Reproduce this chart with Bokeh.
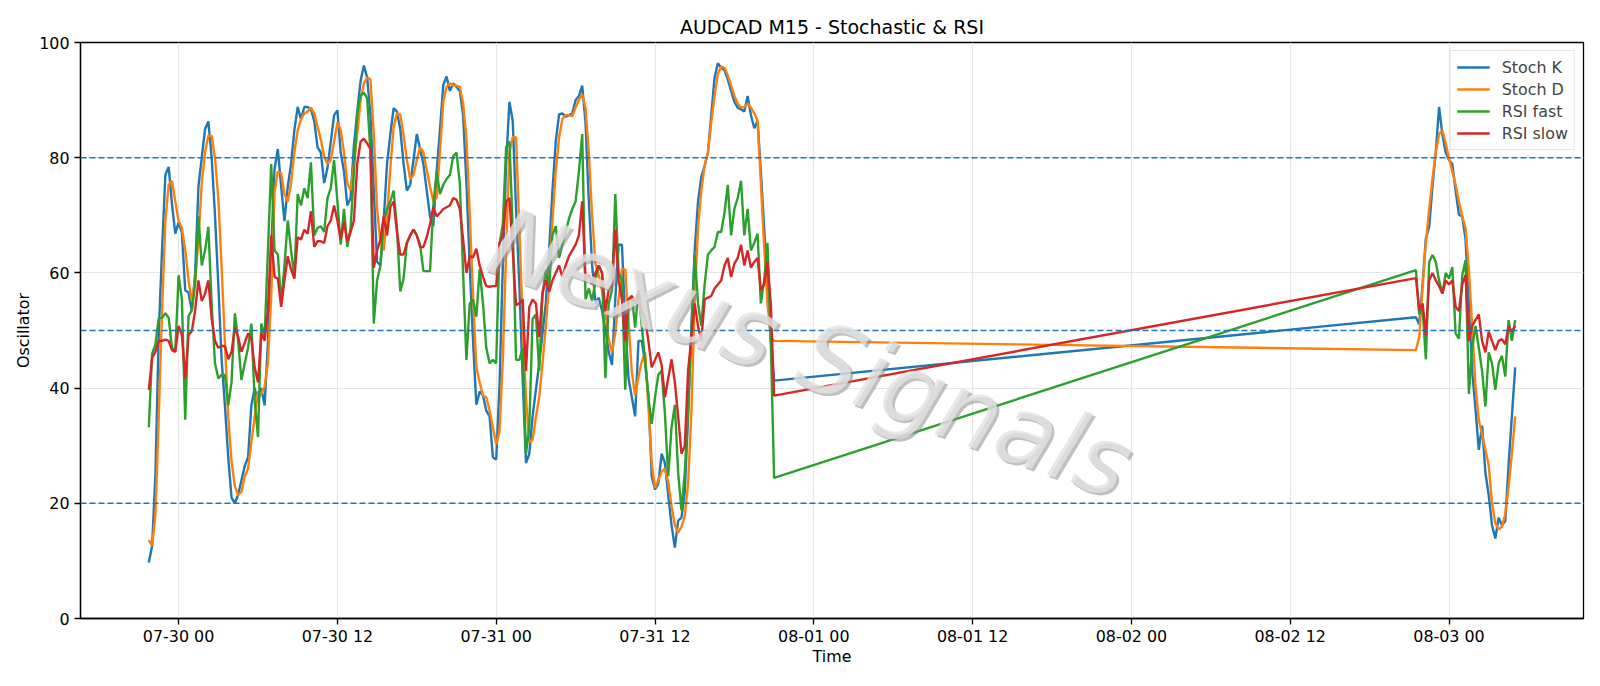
import pandas as pd
from bokeh.plotting import figure
from bokeh.models import (Range1d, FixedTicker, DatetimeTickFormatter, Span, Label,
                          Legend, LegendItem, ColumnDataSource)
from bokeh.embed import file_html
from bokeh.resources import INLINE

TITLE = "AUDCAD M15 - Stochastic & RSI"
SEG1_START = "2020-07-29 21:45"
SEG2_START = "2020-08-02 21:30"
XTICKS = ["2020-07-30 00:00", "2020-07-30 12:00", "2020-07-31 00:00", "2020-07-31 12:00",
          "2020-08-01 00:00", "2020-08-01 12:00", "2020-08-02 00:00", "2020-08-02 12:00",
          "2020-08-03 00:00"]
YTICKS = [0, 20, 40, 60, 80, 100]
LEVELS = [20, 50, 80]
WATERMARK = "Nexus Signals"

# ---- first session (07-29 21:45 .. 07-31 21:00, 15 min) ----
stoch_k_1 = [9.7, 12.6, 25, 49.5, 64, 77, 78.4, 72, 66.8,
             68.8, 67, 57, 56.6, 53.4, 60, 75, 80, 85, 86.3,
             80, 70, 58, 45, 37, 28, 21, 20, 21.5, 24,
             26.5, 28, 37, 40, 37.5, 40, 37, 48, 64, 78,
             81.5, 75, 69, 75, 79, 84.8, 88.8, 86.7, 88.8, 88.8,
             88.4, 86.4, 81.8, 80.9, 75.6, 78.2, 82.8, 87.4, 88.2, 80.9,
             77.6, 71.7, 73, 82.2, 88, 93.3, 96, 93.9, 87.4, 74.3,
             61.9, 61.3, 69.1, 78.9, 84.1, 88.6, 88, 85, 79, 74.3,
             75.3, 79.6, 84.1, 81.5, 78.9, 74.3,
             69.8, 68.1, 77.6, 84.8, 92.6,
             94.1, 91.6, 92.9, 92.3, 91.6, 87.4, 75.6, 61.3, 48.2, 37.1,
             39.4, 38.7, 36.1, 35.1, 28, 27.6, 40.4, 61.3, 78.9, 89.7,
             86.4, 71.1, 58, 41.7, 27, 28.6, 35.1, 39.7, 44.3, 49.5,
             54.7, 63.9, 74.3, 82.8, 87.5, 87.7, 87.1, 87.4, 87.7, 90,
             90.7, 92.5, 86.1, 72.4, 61.3, 54.7, 55.7, 53.4, 50.2, 46.3,
             44, 55.4, 64.9, 64.9, 51.5, 41.7, 38.4, 35.1, 48.2, 48.2,
             44.3, 39, 24.7, 22.4, 23.4, 28.6, 27, 21.4, 16.2, 12.3,
             17, 17.5, 22, 35, 50.8, 63.9, 72.4, 76.7, 78.6, 80.9,
             87.4, 93.9, 96.4, 95.6, 95.2, 93.6, 91.6, 89.7, 88.7, 88.4,
             88, 90.7, 87.4, 85.1, 86.4, 77.6, 67.8, 58, 48.2, 41.3]
stoch_d_1 = [13.6, 12.6, 18, 35, 53.5, 69, 75.3, 76, 72.4,
             69, 67.8, 64, 58.7, 55, 58.7, 65.8, 75.6, 80.9, 83.8,
             83.8, 80, 73, 61, 48, 35, 27.3, 23, 21.4, 22,
             24.7, 26, 30.6, 35, 39.4, 39, 40.3, 44.3, 56, 74,
             77.6, 77.3, 73.7, 72.4, 75.6, 80.9, 84.8, 86.7, 87.7, 88,
             88.7, 87.7, 85.4, 83.1, 80.2, 78.9, 79.6, 82.8, 86.1, 84.8,
             80.9, 75.6, 74.3, 78.9, 84.1, 90, 92.9, 93.9, 93.6, 84.1,
             71.1, 65.2, 63.9, 69.8, 78.2, 85.4, 87.7, 87.5, 84, 79.6,
             76.3, 77, 79.6, 81.8, 80.9, 77.9,
             75, 72.4, 73, 80.9, 89.7,
             92.3, 92.9, 92.6, 92.5, 92.3, 89.4, 83.5, 70.4, 56, 43.6,
             41, 38.7, 38.4, 36.1, 33.2, 30.2, 32.5, 44.9, 63.9, 80.9,
             83.6, 83.5, 67.8, 51.5, 38.4, 30.6, 31, 35, 38.4, 44.3,
             50.8, 58, 69.1, 77.6, 83.5, 86.7, 87.4, 87.4, 87.2, 88.7,
             90, 91, 88.7, 80.9, 69.8, 61.6, 59.6, 57, 53.1, 48.5,
             46.2, 49.5, 55.4, 60.6, 60.6, 51.5, 42.7, 38.7, 42, 44.6,
             46.2, 37.1, 27, 22.7, 24, 25.5, 26, 23.7, 19.5, 16.2,
             14.9, 15.9, 17.8, 23.4, 35.8, 55.4, 67.8, 74.3, 78.6, 80.9,
             86.1, 90.7, 94.6, 95.8, 95.6, 94.3, 92.6, 90.7, 89.4, 88.7,
             88.8, 89.4, 88.7, 87.7, 86.4, 75.6, 64.5, 54.7, 48.9, 48.2]
rsi_fast_1 = [33.2, 46, 47.6, 52.2, 52.2, 53, 52.2, 47, 46.3,
              59.6, 55.4, 34.5, 52.5, 53.5, 58, 69.8, 61.3, 63.9, 68,
              54.6, 44.3, 41.7, 42.3, 42.3, 37, 41, 53, 48.2, 41.4,
              44.3, 47, 51.2, 37.8, 31.5, 51.2, 48.9, 63.9, 78.9, 63.9,
              63.2, 54.7, 61.3, 69.1, 63.9, 59.3, 73.7, 71.7, 74.7, 73,
              79.2, 66.5, 67.8, 68.1, 67.1, 73, 74.7, 79.6, 72.4, 64.9,
              71.1, 64.5, 67.8, 77.6, 87.7, 90.8, 91.3, 90.3, 80.9, 51.2,
              58.7, 61.3, 69.1, 71.1, 72.4, 74.3, 67.8, 56.8, 59, 65.2,
              66.5, 67.5, 66.5, 64.9, 60.3, 60.3,
              60.3, 71.7, 77.6, 73.7, 75.3,
              76.3, 77, 80.2, 80.9, 75.6, 60, 44.9, 54.7, 55.4, 52.4,
              60.6, 54.7, 47, 44.3, 44.9, 44.3, 64.9, 68.5, 81.8, 82.8,
              67.8, 44.9, 44.9, 47, 28.6, 33.2, 52, 52.8, 43, 56,
              60.6, 57.7, 66.5, 68.1, 62.6, 64.9, 67.1, 69.4, 71.1, 72.4,
              77.6, 84.1, 55.4, 57.3, 55.1, 58.7, 61.3, 60, 41.7, 54.7,
              57, 73.7, 60, 58.7, 39.7, 54.7, 56, 50.5, 57, 50.8,
              44.9, 38.4, 33.8, 38.4, 42.3, 43, 35.5, 24.7, 33.2, 37.1,
              25.3, 18.8, 25.3, 36.4, 49.5, 63.2, 54.7, 50.8, 58, 63.2,
              63.9, 64.5, 67.1, 67.1, 70.4, 75.3, 66.5, 71.1, 73, 76,
              66.5, 71.1, 63.9, 65.2, 66.8, 54.7, 58.7, 65.2, 48.2, 24.4]
rsi_slow_1 = [39.7, 45.3, 46.3, 48.2, 48.2, 48.4, 48.2, 46.6, 46.3,
              50.8, 49.2, 41.7, 49.2, 49.9, 53.5, 58.7, 55.1, 56.4, 58.7,
              52.1, 48.2, 47, 47.3, 47.3, 45, 46.3, 50.5, 48.9, 46.3,
              47.9, 49.5, 48.5, 43.6, 41, 49.5, 48.2, 53.4, 66.5, 59.3,
              59, 54.1, 58.7, 62.9, 60.6, 59, 66.2, 65.8, 67.5, 66.8,
              70.7, 64.5, 65.5, 65.5, 65.2, 68.1, 69.1, 71.7, 69.1, 65.8,
              68.8, 65.5, 67.1, 69.1, 78.9, 82.8, 83.3, 82.5, 81.5, 60.9,
              63.9, 65.8, 69.8, 66.5, 71.4, 72.4, 67.1, 63.2, 63.2, 65.2,
              66.5, 67.5, 66.5, 64.5, 64.5, 66.2,
              68.5, 71.4, 69.8, 70.4, 71.1,
              71.4, 71.7, 73, 72.7, 71.1, 65.8, 60, 62.9, 62.7, 64.2,
              61.3, 59.3, 57.7, 57.6, 57.7, 57.7, 65.2, 66.5, 72.4, 73,
              63.9, 54.4, 54.7, 55.4, 43, 54.1, 55.4, 54.7, 48.9, 56.7,
              58.7, 56.7, 58.7, 60, 61.3, 59.3, 61.3, 62.9, 63.9, 64.9,
              66.5, 72.4, 58.7, 59.6, 58, 60, 61.3, 60, 53.4, 57,
              58, 67.5, 58.7, 55.4, 48.2, 55.4, 56, 54.7, 56.4, 53.4,
              52.1, 48.2, 43.6, 44.9, 46.2, 44, 38.4, 41.7, 45, 41,
              35.1, 28.6, 29.9, 43, 48.9, 54.7, 50.8, 48.2, 55.4, 55.7,
              56, 57.3, 58, 58.7, 61.3, 62.6, 59.3, 61.6, 62.6, 64.9,
              61.3, 63.9, 60.9, 61.9, 62.6, 57, 58, 61.9, 54.7, 38.7]

# ---- second session (08-02 21:30 .. 08-03 05:00, 15 min) ----
stoch_k_2 = [52.3, 51.1, 58, 66, 68, 75, 81, 88.8, 84, 80.9, 79.6, 78.9, 74.3, 70.1, 69.8,
             65.8, 54.7, 43, 36.4, 29.3, 33.5, 25.3, 21.4, 16.2, 13.9, 17.5, 16.2, 16.9,
             26.6, 35.1, 43.6]
stoch_d_2 = [46.6, 48.9, 57.4, 65.2, 71.1, 76.3, 80.9, 84.1, 84.8, 82.5, 79.9, 77.6, 75.3,
             72.4, 69.8, 67.8, 60.6, 50.8, 40.4, 34.5, 31.9, 29.3, 26.6, 20.1, 16.5, 15.5,
             15.9, 18.2, 22.7, 28.6, 35.1]
rsi_fast_2 = [60.5, 52.8, 54.1, 45, 61.9, 63.1, 61.9, 58.7, 56.4, 60, 59, 61, 49.5, 48.6,
              59.6, 62.2, 39, 47, 50.8, 47, 43, 36.8, 46.2, 44.3, 39.7, 44.3, 45.6, 42,
              51.8, 48.2, 51.8]
rsi_slow_2 = [59.1, 53.5, 54.7, 49.2, 58.7, 60, 58.7, 57.7, 56.4, 58.7, 58, 58.7, 54.1,
              53.4, 58, 59.6, 48.2, 50.8, 51.8, 52.8, 48.2, 46.2, 49.8, 48.2, 46.6, 48.2,
              48.5, 47.6, 50.8, 49.8, 50.8]

SERIES = [("Stoch K", stoch_k_1 + stoch_k_2, "#1f77b4"),
          ("Stoch D", stoch_d_1 + stoch_d_2, "#ff7f0e"),
          ("RSI fast", rsi_fast_1 + rsi_fast_2, "#2ca02c"),
          ("RSI slow", rsi_slow_1 + rsi_slow_2, "#d62728")]

times = (list(pd.date_range(SEG1_START, periods=len(stoch_k_1), freq="15min")) +
         list(pd.date_range(SEG2_START, periods=len(stoch_k_2), freq="15min")))
times = pd.DatetimeIndex(times)

t0, t1 = times[0], times[-1]
pad = (t1 - t0) * 0.05
x_start = (t0 - pad).value / 1e6
x_end = (t1 + pad).value / 1e6

FONT = "DejaVu Sans"
FS = "15.9px"

p = figure(width=1596, height=684, x_axis_type="datetime", output_backend="svg",
           toolbar_location=None, x_range=Range1d(x_start, x_end), y_range=Range1d(0, 100),
           min_border_left=80, min_border_right=13, min_border_top=42, min_border_bottom=66)
p.title.text = TITLE
p.title.align = "center"
p.title.text_font = FONT
p.title.text_font_size = "19px"
p.title.text_font_style = "normal"
p.title.text_color = "black"

p.outline_line_color = "black"
p.outline_line_width = 1.3
p.background_fill_color = "white"
p.border_fill_color = "white"

xt = [pd.Timestamp(s).value / 1e6 for s in XTICKS]
p.xaxis.ticker = FixedTicker(ticks=xt)
p.xaxis.formatter = DatetimeTickFormatter(
    milliseconds="%m-%d %H", seconds="%m-%d %H", minsec="%m-%d %H", minutes="%m-%d %H",
    hourmin="%m-%d %H", hours="%m-%d %H", days="%m-%d %H", months="%m-%d %H", years="%m-%d %H")
p.yaxis.ticker = FixedTicker(ticks=YTICKS)

for ax in (p.xaxis, p.yaxis):
    ax.axis_line_color = "black"
    ax.axis_line_width = 1.3
    ax.major_tick_line_color = "black"
    ax.major_tick_line_width = 1.3
    ax.major_tick_out = 6
    ax.major_tick_in = 0
    ax.minor_tick_line_color = None
    ax.major_label_text_font = FONT
    ax.major_label_text_font_size = FS
    ax.major_label_text_color = "black"
    ax.axis_label_text_font = FONT
    ax.axis_label_text_font_size = FS
    ax.axis_label_text_font_style = "normal"
    ax.axis_label_text_color = "black"
p.xaxis.axis_label = "Time"
p.yaxis.axis_label = "Oscillator"
p.xaxis.major_label_standoff = 2
p.yaxis.major_label_standoff = 5
p.xaxis.axis_label_standoff = -2
p.yaxis.axis_label_standoff = 3

for g in (p.xgrid, p.ygrid):
    g.grid_line_color = "#e6e6e6"
    g.grid_line_width = 1.2

for lvl in LEVELS:
    p.add_layout(Span(location=lvl, dimension="width", line_color="#1f77b4",
                      line_dash="6 3", line_width=1.6))

src = ColumnDataSource(dict(t=times, **{name: vals for name, vals, _ in SERIES}))
items = []
for name, vals, color in SERIES:
    r = p.line("t", name, source=src, line_color=color, line_width=2.4)
    items.append(LegendItem(label=name, renderers=[r]))

# watermark
wm_x = pd.Timestamp("2020-07-31 23:45").value / 1e6
p.add_layout(Label(x=wm_x, y=46, text=WATERMARK, angle=-20, angle_units="deg",
                   text_align="center", text_baseline="middle", text_font=FONT,
                   text_font_style="italic", text_font_size="96px", text_color="#8c8c8c",
                   text_alpha=0.55, x_offset=2.5, y_offset=-2.5))
p.add_layout(Label(x=wm_x, y=46, text=WATERMARK, angle=-20, angle_units="deg",
                   text_align="center", text_baseline="middle", text_font=FONT,
                   text_font_style="italic", text_font_size="96px", text_color="#e2e2e2",
                   text_alpha=0.8))

legend = Legend(items=items, location="top_right", label_text_font=FONT,
                label_text_font_size=FS, glyph_width=33, glyph_height=20, label_height=20,
                label_standoff=12, spacing=2, padding=6, margin=8,
                border_line_color="#cccccc", border_line_width=1,
                background_fill_color="white", background_fill_alpha=0.8)
p.add_layout(legend)

open("out.html", "w").write(file_html(p, INLINE))
